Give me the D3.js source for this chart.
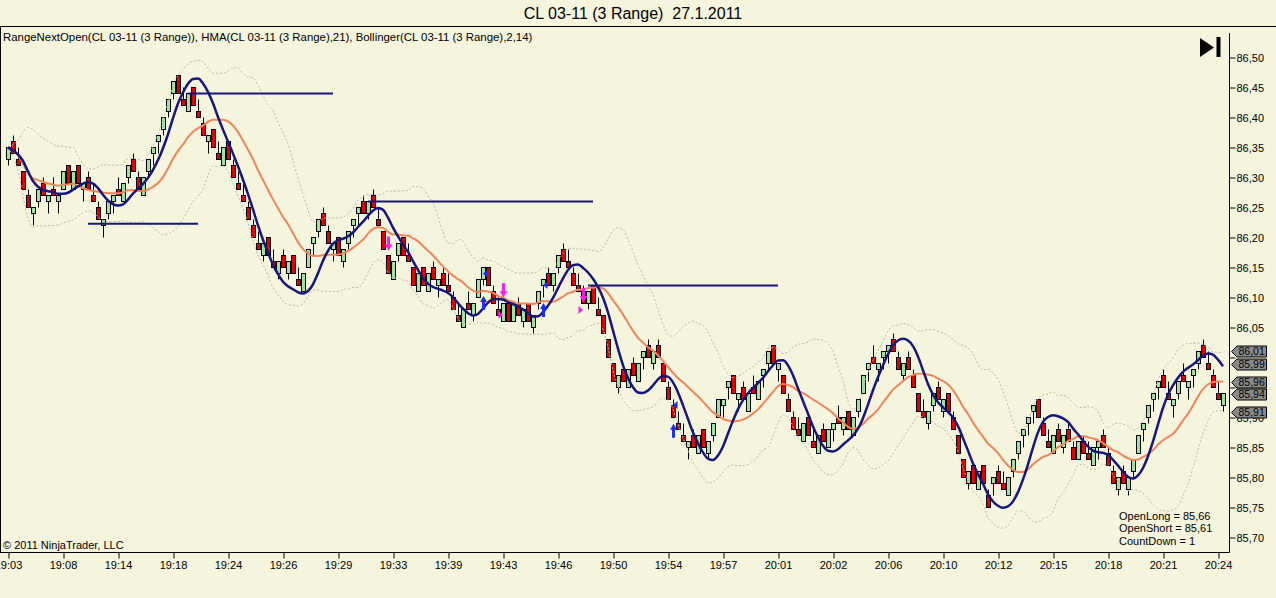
<!DOCTYPE html>
<html>
<head>
<meta charset="utf-8">
<script src="https://cdn.jsdelivr.net/npm/d3@7"></script>
<style>
  html, body { margin: 0; padding: 0; background: #f5f4dc; }
  svg { display: block; font-family: "Liberation Sans", Arial, sans-serif; }
</style>
</head>
<body>
<div class="rangechart"></div>
<script>
// prices are stored in ticks above the base price
var basePrice = 85.00;
var tickSize = 0.01;

var opens = [
  133,136,133,131,127,124,126,129,126,128, 126,128,132,128,132,128,130,127,125,122,
  124,126,128,126,130,133,130,127,131,134, 136,138,141,144,147,143,141,145,141,139,
  136,138,134,132,136,132,129,127,125,122, 119,117,120,116,114,117,114,117,113,111,
  115,119,121,124,121,118,120,116,119,122, 124,126,124,127,123,121,117,113,117,120,
  117,115,111,115,111,115,112,114,112,110, 107,105,109,107,110,113,115,111,108,106,
  109,106,109,106,109,105,109,112,114,112, 115,118,116,114,112,111,109,112,108,107,
  103,99,95,98,95,99,96,100,102,99, 102,99,95,92,89,87,85,87,84,88,
  84,87,90,92,95,97,93,95,91,95, 93,97,99,102,98,97,93,90,88,86,
  90,86,84,88,85,88,90,88,91,87, 91,94,98,100,98,100,101,103,100,97,
  100,97,94,91,89,92,95,91,94,90, 87,83,79,82,78,82,77,79,81,79,
  77,81,84,87,89,91,93,89,86,84, 88,85,88,85,83,86,84,82,85,87,
  84,81,78,81,78,81,84,88,90,93, 95,97,94,92,94,97,95,97,99,102,
  99,97,94,92
];
var highs = [
  135,137,135,131,128,125,128,130,127,130, 127,131,132,131,132,129,131,129,126,123,
  126,127,130,129,132,134,131,130,133,135, 137,140,143,146,147,145,144,145,143,140,
  137,138,136,135,136,133,131,129,126,123, 121,119,120,118,116,118,116,117,115,114,
  118,120,123,125,122,119,120,118,121,123, 125,127,126,128,125,121,117,116,119,120,
  119,115,114,115,114,116,113,115,114,111, 109,108,111,109,113,115,115,112,110,109,
  109,109,110,108,109,107,111,113,115,114, 117,119,118,115,114,112,111,112,110,107,
  103,99,97,99,98,100,99,101,103,101, 103,99,96,93,91,89,86,88,87,88,
  86,89,93,93,96,97,94,96,94,97, 96,98,101,102,99,97,94,91,90,89,
  90,88,87,89,88,89,92,90,91,90, 93,97,99,102,99,101,102,104,101,99,
  101,98,94,93,91,94,96,93,94,91, 87,83,81,82,81,82,78,80,82,81,
  80,83,86,88,90,92,93,90,88,87, 89,87,89,86,86,87,86,85,86,88,
  85,82,80,82,80,83,87,89,92,94, 96,98,96,93,96,99,96,98,101,103,
  101,98,96,94
];
var lows = [
  132,134,132,128,125,122,125,127,124,127, 124,128,129,128,129,126,128,126,123,120,
  123,124,127,126,129,131,128,127,130,132, 134,137,140,143,144,142,141,142,140,137,
  134,135,133,132,133,130,128,126,123,120, 118,116,117,115,113,115,113,114,112,111,
  115,117,120,122,119,116,117,115,118,120, 122,124,123,125,122,118,114,113,116,117,
  116,112,111,112,111,113,110,112,111,108, 106,105,108,106,110,112,112,109,107,106,
  106,106,107,105,106,104,108,110,112,111, 114,116,115,112,111,109,108,109,107,104,
  100,96,94,96,95,97,96,98,100,98, 100,96,93,90,88,86,83,85,84,85,
  83,86,90,90,93,94,91,93,91,94, 93,95,98,99,96,94,91,88,87,86,
  87,85,84,86,85,86,89,87,88,87, 90,94,96,99,96,98,99,101,98,96,
  98,95,91,90,88,91,93,90,91,88, 84,80,78,79,78,79,75,77,79,78,
  77,80,83,85,87,89,90,87,85,84, 86,84,86,83,83,84,83,82,83,85,
  82,79,77,79,77,80,84,86,89,91, 93,95,93,90,93,96,93,95,98,100,
  98,95,93,91
];
var closes = [
  135,134,132,128,125,125,128,127,127,127, 127,131,129,131,129,129,128,126,123,123,
  126,127,127,129,132,131,128,130,133,135, 137,140,143,146,144,142,144,142,140,137,
  137,135,133,135,133,130,128,126,123,120, 118,119,117,115,116,115,116,114,112,114,
  118,120,123,122,119,119,117,118,121,123, 125,124,126,125,122,118,114,116,119,117,
  116,112,114,112,114,113,113,112,111,108, 106,108,108,109,113,115,112,109,107,109,
  106,109,107,108,106,107,111,113,112,114, 117,116,115,112,111,109,111,109,107,104,
  100,96,97,96,98,97,99,101,100,101, 100,96,93,90,88,86,86,85,87,85,
  86,89,93,93,96,94,94,93,94,94, 96,98,101,99,99,94,91,88,87,89,
  87,85,87,86,88,89,89,90,88,90, 93,97,99,99,99,101,102,101,98,99,
  98,95,91,90,91,94,93,93,91,88, 84,80,81,79,81,79,75,80,79,78,
  80,83,86,88,90,92,90,87,85,87, 86,87,86,83,86,84,83,85,86,85,
  82,79,80,79,80,83,87,89,92,94, 96,95,93,93,96,96,96,98,101,100,
  98,95,93,94
];

// time axis: bar index of each label
var timeBars = [0, 11, 22, 33, 44, 55, 66, 77, 88, 99, 110, 121, 132, 143, 154, 165, 176, 187, 198, 209, 220, 231, 242];
var timeLabels = ["19:03", "19:08", "19:14", "19:18", "19:24", "19:26", "19:29", "19:33", "19:39", "19:43", "19:46", "19:50",
  "19:54", "19:57", "20:01", "20:02", "20:06", "20:10", "20:12", "20:15", "20:18", "20:21", "20:24"];
var priceTicks = [85.70, 85.75, 85.80, 85.85, 85.90, 85.95, 86.00, 86.05, 86.10, 86.15, 86.20, 86.25, 86.30, 86.35, 86.40, 86.45, 86.50];
// these two labels sit under the price flags in the reference
var hiddenPriceLabels = [85.95, 86.00];

// last values shown in the grey flags on the price axis
var markerValues = [86.01, 85.99, 85.96, 85.94, 85.91];

// swing levels drawn by RangeNextOpen
var levelPrices = [86.223, 86.44, 86.26, 86.12];
var levelFrom = [16, 36, 72, 116];
var levelTo = [38, 65, 117, 154];

// signal arrows
var longArrowBars = [95, 107, 133];
var longArrowPrices = [86.091, 86.079, 85.878];
var longMarkPrices = [86.140, 86.121, 85.921];
var shortArrowBars = [76, 99, 115];
var shortArrowPrices = [86.190, 86.112, 86.104];
var shortMarkBars = [99, 115];
var shortMarkPrices = [86.071, 86.079];

var infoLines = ["OpenLong = 85,66", "OpenShort = 85,61", "CountDown = 1"];

var hmaPeriod = 21;
var bbPeriod = 14;
var bbDev = 2;

var svgWidth = 1276;
var svgHeight = 598;
var plotLeft = 0.5, plotTop = 26.5, plotRight = 1229.5, plotBottom = 552.5;

var svg = d3.select(".rangechart")
  .append("svg")
  .attr("width", svgWidth)
  .attr("height", svgHeight);

svg.append("rect").attr("width", svgWidth).attr("height", svgHeight).attr("fill", "#f5f4dc");

svg.append("defs").append("clipPath").attr("id", "plotClip")
  .append("rect")
  .attr("x", plotLeft + 0.5).attr("y", plotTop + 0.5)
  .attr("width", plotRight - plotLeft - 1).attr("height", plotBottom - plotTop - 1);

function price(v) { return +(basePrice + v * tickSize).toFixed(2); }
function fmt(p) { return d3.format(".2f")(p).replace(".", ","); }

var x = d3.scaleLinear().domain([0, opens.length - 1]).range([8, 8 + 5 * (opens.length - 1)]);
var y = d3.scaleLinear().domain([85.70, 86.50]).range([537.5, 57.5]);

var bars = opens.map(function(o, i) {
  return { i: i, o: price(o), h: price(highs[i]), l: price(lows[i]), c: price(closes[i]) };
});
var closeSeries = bars.map(function(d) { return d.c; });

// NinjaTrader style moving averages (use the bars available at the start)
function wma(src, period) {
  return src.map(function(d, i) {
    var back = Math.min(period - 1, i), sum = 0, wsum = 0;
    for (var k = 0; k <= back; k++) {
      var w = back - k + 1;
      sum += w * src[i - k];
      wsum += w;
    }
    return sum / wsum;
  });
}
function sma(src, period) {
  return src.map(function(d, i) {
    var win = src.slice(Math.max(0, i - period + 1), i + 1);
    return d3.mean(win);
  });
}
function stdev(src, period) {
  return src.map(function(d, i) {
    var win = src.slice(Math.max(0, i - period + 1), i + 1);
    var m = d3.mean(win);
    return Math.sqrt(d3.mean(win, function(v) { return (v - m) * (v - m); }));
  });
}

var wHalf = wma(closeSeries, Math.floor(hmaPeriod / 2));
var wFull = wma(closeSeries, hmaPeriod);
var diff = wHalf.map(function(v, i) { return 2 * v - wFull[i]; });
var hma = wma(diff, Math.floor(Math.sqrt(hmaPeriod)));
var mid = sma(closeSeries, bbPeriod);
var sd = stdev(closeSeries, bbPeriod);
var upper = mid.map(function(v, i) { return v + bbDev * sd[i]; });
var lower = mid.map(function(v, i) { return v - bbDev * sd[i]; });

// frame
var frame = svg.append("g").attr("stroke", "#000").attr("stroke-width", 1);
frame.append("line").attr("x1", 0).attr("x2", svgWidth).attr("y1", plotTop).attr("y2", plotTop);
frame.append("line").attr("x1", plotLeft).attr("x2", plotLeft).attr("y1", plotTop).attr("y2", plotBottom);
frame.append("line").attr("x1", 0).attr("x2", plotRight).attr("y1", plotBottom).attr("y2", plotBottom);
frame.append("line").attr("x1", plotRight).attr("x2", plotRight).attr("y1", 33).attr("y2", plotBottom);

// title + indicator caption
svg.append("text")
  .attr("x", 633).attr("y", 19)
  .attr("text-anchor", "middle")
  .attr("font-size", 16)
  .style("white-space", "pre")
  .text("CL 03-11 (3 Range)  27.1.2011");

svg.append("text")
  .attr("x", 3).attr("y", 41)
  .attr("font-size", 11.4)
  .text("RangeNextOpen(CL 03-11 (3 Range)), HMA(CL 03-11 (3 Range),21), Bollinger(CL 03-11 (3 Range),2,14)");

var chartGroup = svg.append("g").attr("clip-path", "url(#plotClip)");

// candles
chartGroup.selectAll("line.wick")
  .data(bars)
  .enter()
  .append("line")
  .attr("class", "wick")
  .attr("x1", function(d) { return x(d.i) + 0.5; })
  .attr("x2", function(d) { return x(d.i) + 0.5; })
  .attr("y1", function(d) { return y(d.h); })
  .attr("y2", function(d) { return y(d.l); })
  .attr("stroke", "#000");

chartGroup.selectAll("rect.body")
  .data(bars)
  .enter()
  .append("rect")
  .attr("class", "body")
  .attr("x", function(d) { return x(d.i) - 1.5; })
  .attr("width", 4)
  .attr("y", function(d) { return y(Math.max(d.o, d.c)); })
  .attr("height", function(d) { return Math.max(1, Math.abs(y(d.o) - y(d.c))); })
  .attr("fill", function(d) { return d.c >= d.o ? "#9ee39c" : "#e00000"; })
  .attr("stroke", "#000");

// indicators
var line = d3.line()
  .x(function(d, i) { return x(i); })
  .y(function(d) { return y(d); })
  .curve(d3.curveMonotoneX);

[upper, lower].forEach(function(band) {
  chartGroup.append("path")
    .attr("d", line(band))
    .attr("fill", "none")
    .attr("stroke", "#b9b9b0")
    .attr("stroke-width", 1)
    .attr("stroke-dasharray", "2,2");
});

chartGroup.append("path")
  .attr("d", line(mid))
  .attr("fill", "none")
  .attr("stroke", "#f2845c")
  .attr("stroke-width", 2);

chartGroup.append("path")
  .attr("d", line(hma))
  .attr("fill", "none")
  .attr("stroke", "#16167c")
  .attr("stroke-width", 2.5);

// swing levels
levelPrices.forEach(function(p, k) {
  chartGroup.append("line")
    .attr("x1", x(levelFrom[k])).attr("x2", x(levelTo[k]))
    .attr("y1", y(p)).attr("y2", y(p))
    .attr("stroke", "#16167c")
    .attr("stroke-width", 2);
});

// arrows
function upArrow(cx, cy) {
  return "M" + cx + "," + (cy - 7) + "L" + (cx + 3.5) + "," + (cy - 1) + "L" + (cx + 1.5) + "," + (cy - 1) +
    "L" + (cx + 1.5) + "," + (cy + 7) + "L" + (cx - 1.5) + "," + (cy + 7) + "L" + (cx - 1.5) + "," + (cy - 1) +
    "L" + (cx - 3.5) + "," + (cy - 1) + "Z";
}
function downArrow(cx, cy) {
  return "M" + cx + "," + (cy + 7) + "L" + (cx + 4) + "," + (cy + 1) + "L" + (cx + 1.5) + "," + (cy + 1) +
    "L" + (cx + 1.5) + "," + (cy - 7) + "L" + (cx - 1.5) + "," + (cy - 7) + "L" + (cx - 1.5) + "," + (cy + 1) +
    "L" + (cx - 4) + "," + (cy + 1) + "Z";
}

chartGroup.selectAll("path.long")
  .data(longArrowBars)
  .enter()
  .append("path")
  .attr("d", function(b, k) { return upArrow(x(b) + 0.5, y(longArrowPrices[k])); })
  .attr("fill", "#1a2cff");

chartGroup.selectAll("path.longmark")
  .data(longArrowBars)
  .enter()
  .append("path")
  .attr("d", function(b, k) {
    var cx = x(b) + 3, cy = y(longMarkPrices[k]);
    return "M" + (cx - 3) + "," + cy + "L" + (cx + 1.5) + "," + (cy - 4) + "L" + (cx + 1.5) + "," + (cy + 4) + "Z";
  })
  .attr("fill", "#1a2cff");

chartGroup.selectAll("path.short")
  .data(shortArrowBars)
  .enter()
  .append("path")
  .attr("d", function(b, k) { return downArrow(x(b) + 0.5, y(shortArrowPrices[k])); })
  .attr("fill", "#ff1cf0");

chartGroup.selectAll("path.shortmark")
  .data(shortMarkBars)
  .enter()
  .append("path")
  .attr("d", function(b, k) {
    var cx = x(b) - 3, cy = y(shortMarkPrices[k]);
    return "M" + (cx + 3) + "," + cy + "L" + (cx - 1.5) + "," + (cy - 4) + "L" + (cx - 1.5) + "," + (cy + 4) + "Z";
  })
  .attr("fill", "#ff1cf0");

// price axis
var rightAxis = d3.axisRight(y)
  .tickValues(priceTicks)
  .tickSize(6)
  .tickPadding(1)
  .tickFormat(function(p) { return hiddenPriceLabels.indexOf(p) >= 0 ? "" : fmt(p); });

var yAxis = svg.append("g")
  .attr("transform", "translate(" + plotRight + ",0)")
  .call(rightAxis);
yAxis.select(".domain").remove();
yAxis.selectAll("text").attr("font-size", 11).attr("font-family", "Liberation Sans, Arial, sans-serif").attr("fill", "#000");
yAxis.selectAll("line").attr("stroke", "#000");

// time axis
var bottomAxis = d3.axisBottom(x)
  .tickValues(timeBars)
  .tickSize(6)
  .tickPadding(3)
  .tickFormat(function(d, k) { return timeLabels[k]; });

var xAxis = svg.append("g")
  .attr("transform", "translate(0," + plotBottom + ")")
  .call(bottomAxis);
xAxis.select(".domain").remove();
xAxis.selectAll("text").attr("font-size", 11).attr("font-family", "Liberation Sans, Arial, sans-serif").attr("fill", "#000");
xAxis.selectAll("line").attr("stroke", "#000").attr("transform", "translate(0.5,0)");

// price flags
var flags = svg.append("g");
markerValues.forEach(function(v) {
  var cy = Math.round(y(v)) + 0.5, x0 = 1231.5;
  flags.append("path")
    .attr("d", "M" + x0 + "," + cy + "L" + (x0 + 5.5) + "," + (cy - 5.5) + "L" + (x0 + 35) + "," + (cy - 5.5) +
      "L" + (x0 + 35) + "," + (cy + 5.5) + "L" + (x0 + 5.5) + "," + (cy + 5.5) + "Z")
    .attr("fill", "#8a8a8a")
    .attr("stroke", "#000");
  flags.append("text")
    .attr("x", x0 + 7).attr("y", cy)
    .attr("dy", "0.36em")
    .attr("font-size", 10.5)
    .text(fmt(v));
});

// skip-to-end button
svg.append("path").attr("d", "M1200,38L1214,47.5L1200,57Z").attr("fill", "#000");
svg.append("rect").attr("x", 1216.5).attr("y", 37).attr("width", 4).attr("height", 20).attr("fill", "#000");

// footers
svg.append("text")
  .attr("x", 3).attr("y", 549)
  .attr("font-size", 11)
  .text("\u00a9 2011 NinjaTrader, LLC");

svg.selectAll("text.info")
  .data(infoLines)
  .enter()
  .append("text")
  .attr("class", "info")
  .attr("x", 1119)
  .attr("y", function(d, k) { return 520 + k * 12.3; })
  .attr("font-size", 11)
  .text(function(d) { return d; });
</script>
</body>
</html>
